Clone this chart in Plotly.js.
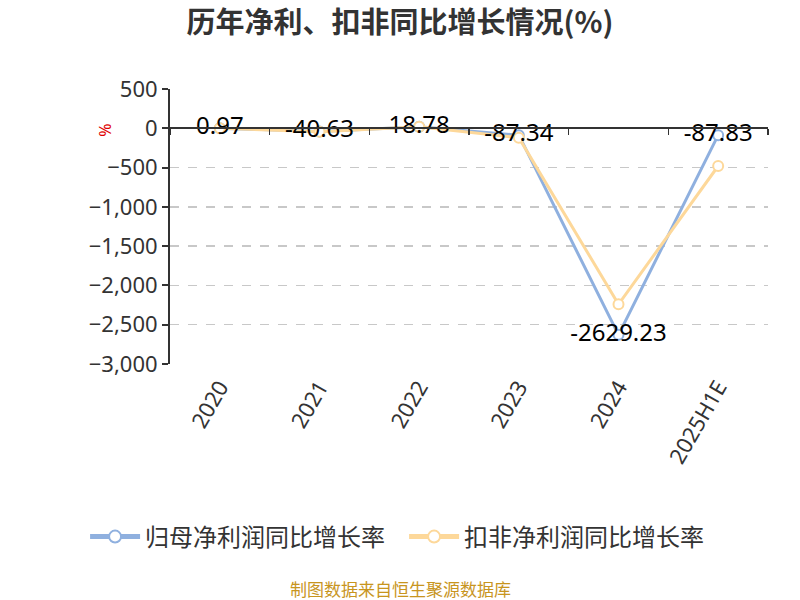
<!DOCTYPE html>
<html>
<head>
<meta charset="utf-8">
<script src="https://cdn.plot.ly/plotly-3.0.1.min.js"></script>
<style>
  html, body { margin: 0; padding: 0; background: #fff; }
  #chart { width: 800px; height: 600px; }
</style>
</head>
<body>
<div id="chart"></div>
<script>
// categories and values
const years = ["2020", "2021", "2022", "2023", "2024", "2025H1E"];
const netProfitGrowth = [0.97, -40.63, 18.78, -87.34, -2629.23, -87.83];
const netProfitLabels = ["0.97", "-40.63", "18.78", "-87.34", "-2629.23", "-87.83"];
const deductedGrowth = [0, -45, 20, -120, -2240, -480]; // estimated, no labels in chart
const yTicks = [500, 0, -500, -1000, -1500, -2000, -2500, -3000];

const FONT = '"Noto Sans CJK SC", "Noto Sans", sans-serif';
const NUMFONT = '"Noto Sans", "Noto Sans CJK SC", sans-serif';
const blue = "#8fb0df";
const yellow = "#fdd89a";

const traceNet = {
  x: years,
  y: netProfitGrowth,
  name: "归母净利润同比增长率",
  type: "scatter",
  mode: "lines+markers",
  line: { color: blue, width: 3 },
  marker: { size: 10, color: "#fff", line: { color: blue, width: 2 } },
  hoverinfo: "x+y",
  cliponaxis: false
};

const traceDeducted = {
  x: years,
  y: deductedGrowth,
  name: "扣非净利润同比增长率",
  type: "scatter",
  mode: "lines+markers",
  line: { color: yellow, width: 3 },
  marker: { size: 10, color: "#fff", line: { color: yellow, width: 2 } },
  hoverinfo: "x+y",
  cliponaxis: false
};

// value labels of the first series, kept on top of both lines
const traceLabels = {
  x: years,
  y: netProfitGrowth,
  type: "scatter",
  mode: "text",
  text: netProfitLabels,
  textposition: "middle center",
  textfont: { size: 24, color: "#000", family: NUMFONT },
  showlegend: false,
  hoverinfo: "skip",
  cliponaxis: false
};

// puts the second x axis (zero line with ticks) into play
const traceAxis = {
  x: years,
  y: years.map(() => null),
  xaxis: "x2",
  type: "scatter",
  mode: "lines",
  showlegend: false,
  hoverinfo: "skip"
};

const yMin = -3000, yMax = 500;

const layout = {
  width: 800,
  height: 600,
  margin: { l: 170, r: 32, t: 89, b: 236 },
  paper_bgcolor: "#fff",
  plot_bgcolor: "#fff",
  font: { family: FONT, color: "#333" },
  title: {
    text: "<b>历年净利、扣非同比增长情况(%)</b>",
    x: 0.5, xanchor: "center",
    y: 0.962, yanchor: "middle",
    font: { size: 29, color: "#333", family: FONT }
  },
  xaxis: {
    type: "category",
    range: [-0.5, 5.5],
    showline: false,
    showgrid: false,
    zeroline: false,
    ticks: "",
    tickangle: -60,
    tickfont: { size: 22, color: "#333", family: NUMFONT },
    ticklabelstandoff: 5,
    fixedrange: true
  },
  xaxis2: {
    type: "category",
    overlaying: "x",
    matches: "x",
    anchor: "free",
    position: (0 - yMin) / (yMax - yMin),
    side: "bottom",
    showline: true,
    linecolor: "#333",
    linewidth: 2,
    ticks: "outside",
    tickson: "boundaries",
    ticklen: 6,
    tickwidth: 1.5,
    tickcolor: "#333",
    showticklabels: false,
    showgrid: false,
    zeroline: false
  },
  yaxis: {
    range: [yMin, yMax],
    tickvals: yTicks,
    tickformat: ",d",
    showline: true,
    linecolor: "#333",
    linewidth: 2,
    ticks: "outside",
    ticklen: 6,
    tickcolor: "#333",
    tickwidth: 2,
    tickfont: { size: 22, color: "#333", family: NUMFONT },
    showgrid: true,
    gridcolor: "#c8c8c8",
    griddash: "dash",
    gridwidth: 1.5,
    zeroline: false,
    fixedrange: true
  },
  legend: {
    orientation: "h",
    x: -0.142, xanchor: "left",
    y: -0.629, yanchor: "middle",
    font: { size: 24, color: "#333", family: FONT },
    itemsizing: "constant",
    itemwidth: 50,
    entrywidth: 254,
    traceorder: "normal"
  },
  annotations: [
    {
      text: "%",
      xref: "paper", yref: "paper",
      x: -0.108, xanchor: "center",
      y: 0.851, yanchor: "middle",
      showarrow: false,
      textangle: 90,
      font: { size: 16, color: "#e00000", family: NUMFONT }
    },
    {
      text: "制图数据来自恒生聚源数据库",
      xref: "paper", yref: "paper",
      x: (400 - 170) / 598, xanchor: "center",
      y: -0.815, yanchor: "middle",
      showarrow: false,
      font: { size: 17, color: "#c8951e", family: FONT }
    }
  ],
  showlegend: true
};

Plotly.newPlot("chart", [traceNet, traceDeducted, traceLabels, traceAxis], layout, { displayModeBar: false, staticPlot: true });
</script>
</body>
</html>
